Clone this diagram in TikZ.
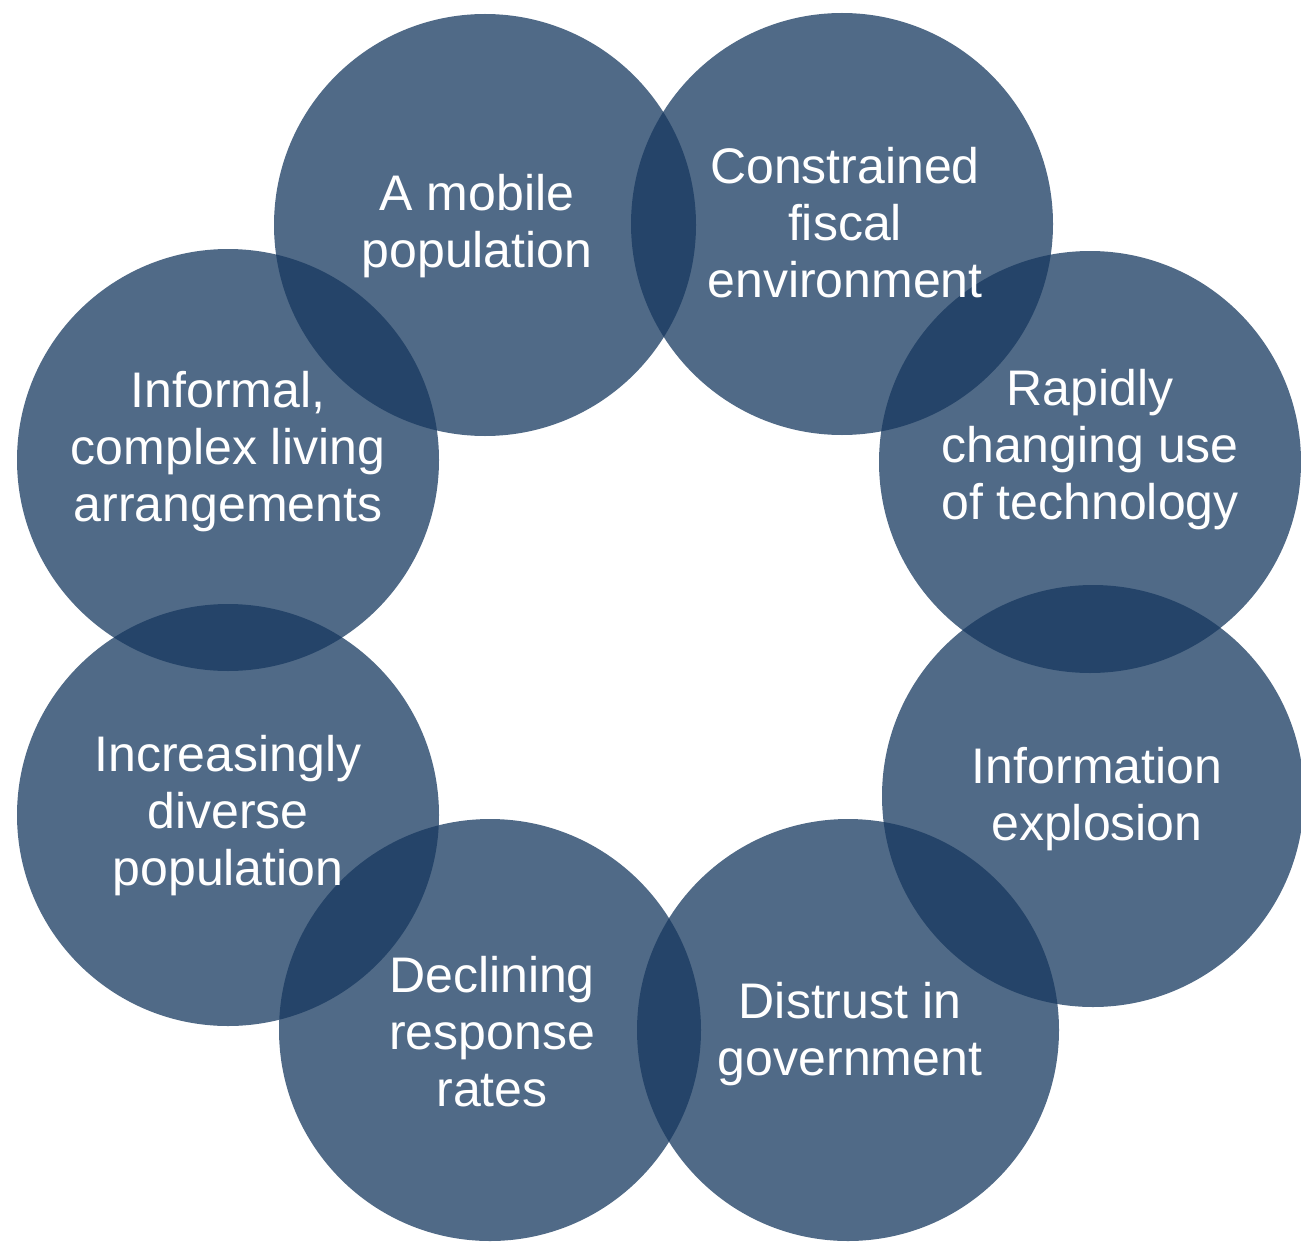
\documentclass[tikz,border=0pt]{standalone}
\usepackage{fontspec}
\setmainfont{Liberation Sans}
\definecolor{discblue}{HTML}{16385F}
\begin{document}
\begin{tikzpicture}[x=0.75pt,y=-0.75pt,
  disc/.style={circle,minimum size=316.5pt,inner sep=0pt,fill=discblue,fill opacity=0.75,draw=none},
  lbl/.style={align=center,text=white,inner sep=0pt,font=\fontsize{37.5}{42.75}\selectfont}]
\useasboundingbox (0,0) rectangle (1301,1241);
\node[disc] (c1) at (485,225) {};
\node[disc] (c2) at (842,224) {};
\node[disc] (c3) at (1090,462) {};
\node[disc] (c4) at (1093,796) {};
\node[disc] (c5) at (848,1030) {};
\node[disc] (c6) at (490,1030) {};
\node[disc] (c7) at (228,815) {};
\node[disc] (c8) at (228,460) {};
\node[lbl] (t1) at (477,226) {A mobile\\population};
\node[lbl] (t2) at (845,223) {Constrained\\fiscal\\environment};
\node[lbl] (t3) at (1090,450) {Rapidly\\changing use\\of technology};
\node[lbl] (t4) at (1097,799) {Information\\explosion};
\node[lbl] (t5) at (850,1034) {Distrust in\\government};
\node[lbl] (t6) at (492,1032) {Declining\\response\\rates};
\node[lbl] (t7) at (228,816) {Increasingly\\diverse\\population};
\node[lbl] (t8) at (228,452) {Informal,\\complex living\\arrangements};
\end{tikzpicture}
\end{document}
